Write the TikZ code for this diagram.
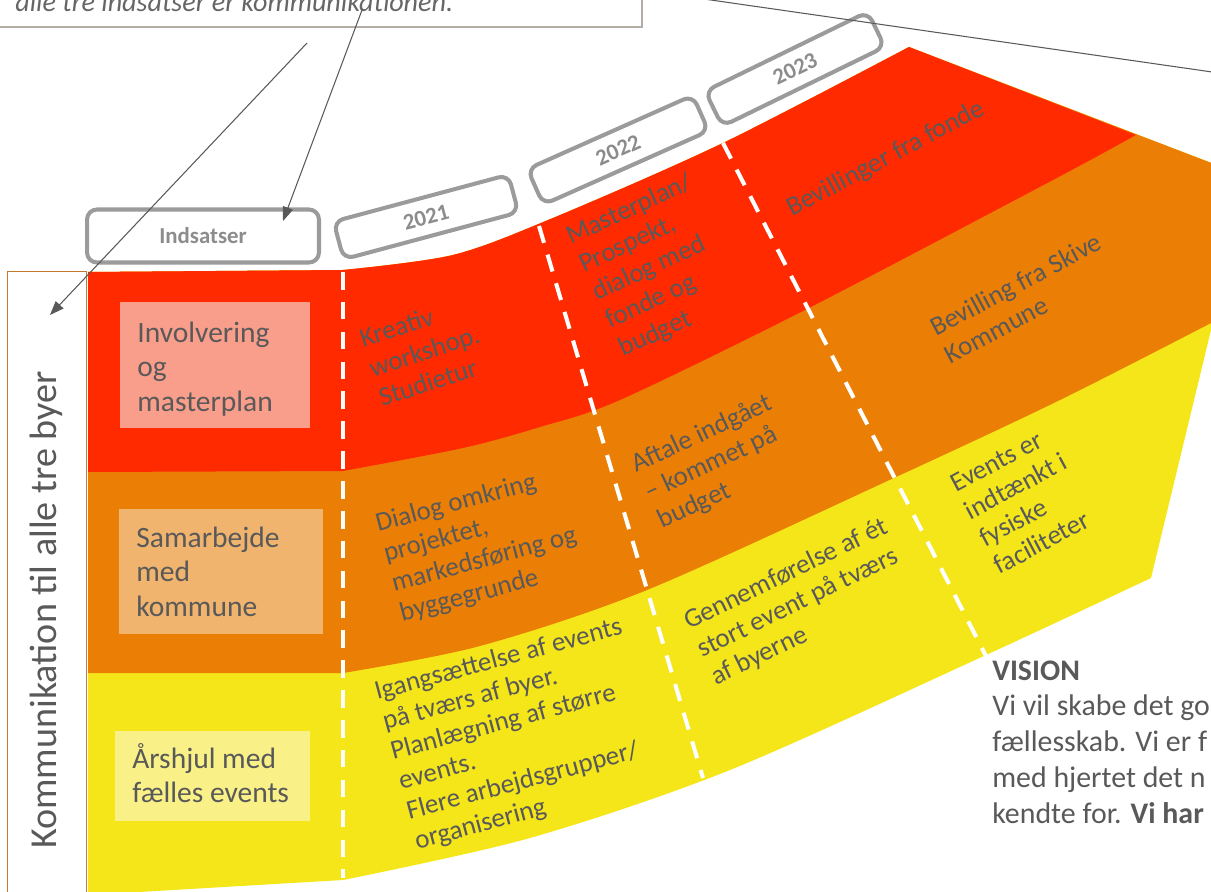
\documentclass[tikz,border=0pt]{standalone}
\usepackage{fontspec}
\setmainfont{Carlito}
\usepackage{tikz}
\usetikzlibrary{arrows.meta,shadows}

\definecolor{bandred}{HTML}{FF2A00}
\definecolor{bandorange}{HTML}{EB7F05}
\definecolor{bandyellow}{HTML}{F4E619}
\definecolor{boxred}{HTML}{FA9E8C}
\definecolor{boxorange}{HTML}{F0B46E}
\definecolor{boxyellow}{HTML}{F9F187}
\definecolor{txtgrey}{HTML}{595959}
\definecolor{notegrey}{HTML}{666666}
\definecolor{tabgrey}{HTML}{9B9B9B}
\definecolor{tabtext}{HTML}{8C8C8C}
\definecolor{kommline}{HTML}{C5782F}
\definecolor{noteline}{HTML}{B4ADA6}

\newcommand{\stacklines}[1]{\begin{tabular}[t]{@{}l@{}}#1\end{tabular}}

\tikzset{
  yeartab/.style={draw=tabgrey, line width=2.3pt, fill=white, rounded corners=0.2cm,
    minimum width=3.62cm, minimum height=0.78cm, text=tabtext, inner sep=0pt,
    font=\fontsize{13}{15}\selectfont\bfseries,
    drop shadow={shadow xshift=0.6pt, shadow yshift=-0.9pt, opacity=0.3}},
  lanebox/.style={inner sep=0pt},
  lanetext/.style={anchor=base west, inner sep=0pt, text=txtgrey,
    font=\fontsize{16.8}{19.8}\selectfont},
  fantext/.style={anchor=base west, inner sep=0pt, text=txtgrey,
    font=\fontsize{15.3}{17.6}\selectfont},
  dashline/.style={white, line width=2.3pt, dash pattern=on 10pt off 7pt},
  callout/.style={draw=txtgrey, line width=0.6pt, -{Triangle[length=8pt,width=6pt]}}
}

\begin{document}
\begin{tikzpicture}[x=0.02cm, y=-0.02cm]
\useasboundingbox (0,0) rectangle (1211,892);
\clip (0,0) rectangle (1211,892);

\fill[bandyellow] (88,272) -- plot[smooth] coordinates {(343,270) (453,255) (553,218) (723,143) (909,47)}
  -- (1248,177) -- plot[smooth] coordinates {(1151,578) (986,655) (730,770) (530,838) (343,880)} -- (88,895) -- cycle;
\fill[bandorange] (88,272) -- plot[smooth] coordinates {(343,270) (453,255) (553,218) (723,143) (909,47)}
  -- (1248,177) -- plot[smooth] coordinates {(1213,322) (1060,400) (896,477) (647,590) (480,646) (343,673)} -- (88,673) -- cycle;
\fill[bandred] (88,272) -- plot[smooth] coordinates {(343,270) (453,255) (553,218) (723,143) (909,47)}
  -- plot[smooth] coordinates {(1136,135) (1053,180) (805,310) (620,400) (540,427) (463,448) (343,471)} -- (88,472) -- cycle;

\draw[dashline] (343,272) -- (343,878);
\draw[dashline] (539,226) -- (703,778);
\draw[dashline] (723,143) -- (986,656);

\node[lanebox, fill=boxred, minimum width=3.8cm, minimum height=2.52cm] (involveringbox) at (215,365) {};
\node[lanetext] (involvering) at (137,342) {\stacklines{Involvering\\og\\masterplan}};
\node[lanebox, fill=boxorange, minimum width=4.08cm, minimum height=2.5cm] (samarbejdebox) at (221,571.5) {};
\node[lanetext] (samarbejde) at (136,547) {\stacklines{Samarbejde\\med\\kommune}};
\node[lanebox, fill=boxyellow, minimum width=3.9cm, minimum height=1.8cm] (aarshjulbox) at (212.5,776) {};
\node[lanetext] (aarshjul) at (132,768) {\stacklines{Årshjul med\\fælles events}};

\node[fantext, rotate=18] (kreativ) at (363,348) {\stacklines{Kreativ\\workshop.\\Studietur}};
\node[fantext, rotate=25] (masterplan) at (571,245) {\stacklines{Masterplan/\\Prospekt,\\dialog med\\fonde og\\budget}};
\node[fantext, rotate=28] (fonde) at (792,217) {Bevillinger fra fonde};
\node[fantext, rotate=15] (dialog) at (378,532) {\stacklines{Dialog omkring\\projektet,\\markedsføring og\\byggegrunde}};
\node[fantext, rotate=25] (aftale) at (636,473) {\stacklines{Aftale indgået\\– kommet på\\budget}};
\node[fantext, rotate=28] (skive) at (936,337) {\stacklines{Bevilling fra Skive\\Kommune}};
\node[fantext, rotate=15] (igang) at (377,700) {\stacklines{Igangsættelse af events\\på tværs af byer.\\Planlægning af større\\events.\\Flere arbejdsgrupper/\\organisering}};
\node[fantext, rotate=26] (gennem) at (689,630) {\stacklines{Gennemførelse af ét\\stort event på tværs\\af byerne}};
\node[fantext, rotate=28] (faciliteter) at (956,493) {\stacklines{Events er\\indtænkt i\\fysiske\\faciliteter}};

\node[yeartab, minimum width=4.64cm, minimum height=1.06cm] (indsatser) at (203,236) {Indsatser};
\node[yeartab, rotate=15] (y2021) at (426,217) {2021};
\node[yeartab, rotate=24] (y2022) at (618,150) {2022};
\node[yeartab, rotate=26] (y2023) at (795,69) {2023};

\node[draw=kommline, line width=0.8pt, fill=white, minimum width=1.58cm, minimum height=12.8cm,
  inner sep=0pt, anchor=north west] (kommbox) at (7,271) {};
\node[rotate=90, anchor=base, inner sep=0pt, text=txtgrey, font=\fontsize{21.7}{26}\selectfont] (kommtext) at (56,610) {Kommunikation til alle tre byer};

\node[draw=noteline, line width=0.9pt, minimum width=13.5cm, minimum height=2cm, anchor=south east] (note) at (643,28) {};
\node[anchor=base west, inner sep=0pt, text=notegrey, font=\fontsize{16}{19}\selectfont\itshape] (notetext) at (15,12) {alle tre indsatser er kommunikationen.};

\node[anchor=base west, inner sep=0pt, text=txtgrey, font=\fontsize{17}{20.4}\selectfont] (vision) at (992,680)
  {\stacklines{\textbf{VISION}\\Vi vil skabe det go\\fællesskab. Vi er f\\med hjertet det n\\kendte for. \textbf{Vi har}}};

\coordinate (fromA) at (307,43);
\coordinate (fromB) at (362,10);
\coordinate (toA) at (50,315);
\coordinate (toB) at (283,221);
\coordinate (lineL) at (690,-3);
\coordinate (lineR) at (1240,76);
\draw[callout] (fromA) -- (toA);
\draw[callout] (fromB) -- (toB);
\draw[draw=txtgrey, line width=0.6pt] (lineL) -- (lineR);
\end{tikzpicture}
\end{document}
